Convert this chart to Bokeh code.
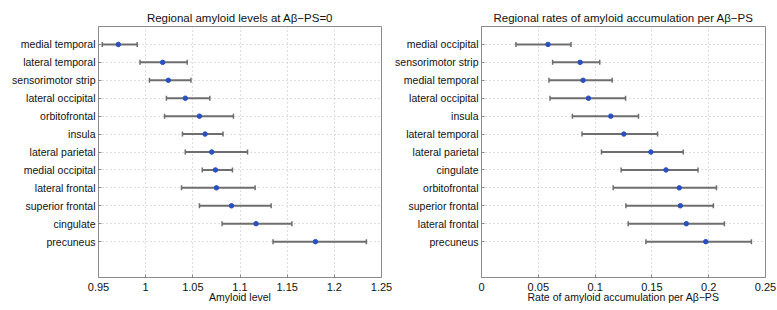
from bokeh.plotting import figure
from bokeh.layouts import row
from bokeh.models import Range1d, FixedTicker, CustomJSTickFormatter, Whisker, ColumnDataSource, TeeHead
from bokeh.embed import file_html
from bokeh.resources import INLINE

# Left panel: regional amyloid levels at Abeta-PS = 0
left_regions = ["medial temporal", "lateral temporal", "sensorimotor strip", "lateral occipital",
                "orbitofrontal", "insula", "lateral parietal", "medial occipital",
                "lateral frontal", "superior frontal", "cingulate", "precuneus"]
left_mean = [0.971, 1.018, 1.024, 1.042, 1.057, 1.063, 1.070, 1.074, 1.075, 1.091, 1.117, 1.180]
left_low = [0.954, 0.994, 1.004, 1.022, 1.020, 1.039, 1.042, 1.060, 1.038, 1.057, 1.081, 1.135]
left_high = [0.991, 1.044, 1.048, 1.068, 1.093, 1.082, 1.108, 1.092, 1.116, 1.133, 1.155, 1.234]
left_ticks = [0.95, 1.0, 1.05, 1.1, 1.15, 1.2, 1.25]

# Right panel: regional rates of amyloid accumulation per Abeta-PS
right_regions = ["medial occipital", "sensorimotor strip", "medial temporal", "lateral occipital",
                 "insula", "lateral temporal", "lateral parietal", "cingulate",
                 "orbitofrontal", "superior frontal", "lateral frontal", "precuneus"]
right_mean = [0.0585, 0.0868, 0.0894, 0.0941, 0.1138, 0.1253, 0.1491, 0.1624, 0.1741, 0.1750, 0.1803, 0.1974]
right_low = [0.0303, 0.0626, 0.0594, 0.0603, 0.0800, 0.0885, 0.1056, 0.1229, 0.1159, 0.1271, 0.1291, 0.1447]
right_high = [0.0788, 0.1041, 0.1150, 0.1268, 0.1382, 0.1550, 0.1776, 0.1906, 0.2068, 0.2041, 0.2138, 0.2376]
right_ticks = [0.0, 0.05, 0.1, 0.15, 0.2, 0.25]

FONT = "Liberation Sans"
AX_COLOR = "#8a8a8a"
TXT = "#111111"


def make_panel(title, xlabel, regions, mean, low, high, ticks, xr, border_left, frame_w, border_right):
    n = len(regions)
    pos = list(range(1, n + 1))
    src = ColumnDataSource(dict(y=pos, m=mean, lo=low, hi=high))
    p = figure(width=border_left + frame_w + border_right, height=310,
               frame_width=frame_w, frame_height=251,
               x_range=Range1d(*xr), y_range=Range1d(n + 2, 0),
               output_backend="svg", toolbar_location=None,
               min_border_left=border_left, min_border_right=border_right,
               min_border_top=26, min_border_bottom=33, title=title)
    p.title.text_font = FONT
    p.title.text_font_size = "11.5px"
    p.title.text_font_style = "normal"
    p.title.align = "center"
    p.title.standoff = 6
    p.title.text_color = TXT

    p.outline_line_color = AX_COLOR
    p.outline_line_width = 1
    p.background_fill_color = "white"
    p.border_fill_color = "white"

    p.xaxis.ticker = FixedTicker(ticks=ticks)
    p.xaxis.formatter = CustomJSTickFormatter(code="return String(Math.round(tick*100)/100);")
    p.yaxis.ticker = FixedTicker(ticks=pos)
    p.yaxis.major_label_overrides = {i: r for i, r in zip(pos, regions)}

    for ax in (p.xaxis[0], p.yaxis[0]):
        ax.axis_line_color = AX_COLOR
        ax.major_tick_line_color = AX_COLOR
        ax.major_tick_in = 3
        ax.major_tick_out = 0
        ax.minor_tick_line_color = None
        ax.major_label_text_font = FONT
        ax.major_label_text_color = TXT
    p.xaxis.major_label_text_font_size = "11px"
    p.yaxis.major_label_text_font_size = "10.5px"
    p.xaxis.major_label_standoff = 5
    p.yaxis.major_label_standoff = 3
    p.xaxis.axis_label = xlabel
    p.xaxis.axis_label_text_font = FONT
    p.xaxis.axis_label_text_font_size = "10.5px"
    p.xaxis.axis_label_text_font_style = "normal"
    p.xaxis.axis_label_standoff = -3
    p.xaxis.axis_label_text_color = TXT

    for g in (p.xgrid[0], p.ygrid[0]):
        g.grid_line_color = "#bdbdbd"
        g.grid_line_dash = "1 3"
        g.grid_line_width = 1

    w = Whisker(source=src, base="y", lower="lo", upper="hi", dimension="width",
                line_color="#6e6e6e", line_width=2,
                lower_head=TeeHead(size=5, line_color="#6e6e6e", line_width=1.5),
                upper_head=TeeHead(size=5, line_color="#6e6e6e", line_width=1.5))
    p.add_layout(w)
    p.scatter(x="m", y="y", source=src, size=4.5, fill_color="#2a50c0", line_color="#2a50c0")
    return p


p1 = make_panel("Regional amyloid levels at A\u03b2\u2212PS=0", "Amyloid level",
                left_regions, left_mean, left_low, left_high, left_ticks, (0.95, 1.25), 98, 283, 11)
p2 = make_panel("Regional rates of amyloid accumulation per A\u03b2\u2212PS",
                "Rate of amyloid accumulation per A\u03b2\u2212PS",
                right_regions, right_mean, right_low, right_high, right_ticks, (0.0, 0.25), 88, 284, 13)

layout = row(p1, p2)
open("out.html", "w").write(file_html(layout, INLINE))
